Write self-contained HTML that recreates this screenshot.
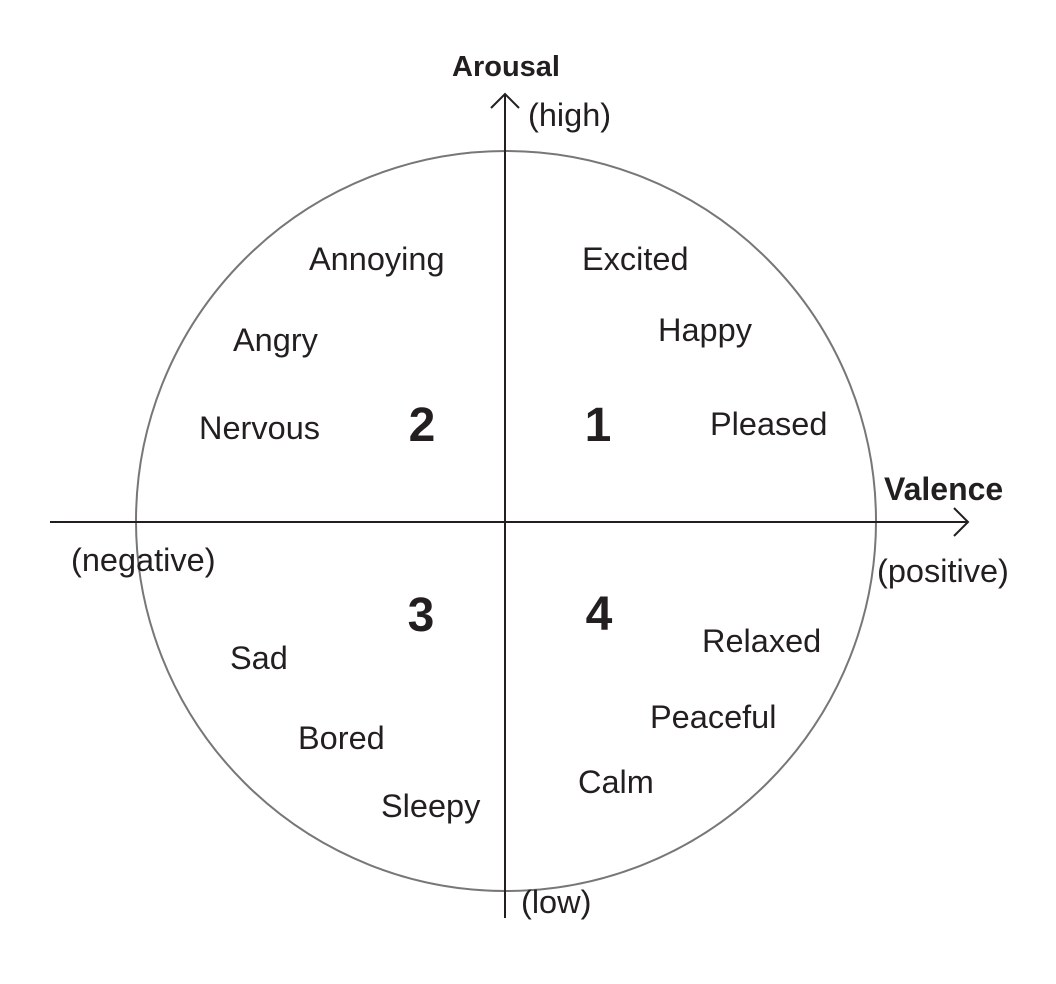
<!DOCTYPE html>
<html><head><meta charset="utf-8"><style>
html,body{margin:0;padding:0;background:#fff;}
svg{display:block;}
text{font-family:"Liberation Sans",Arial,sans-serif;fill:#231f20;}
.l{font-size:32.5px;}
.b{font-weight:bold;}
</style></head><body>
<svg width="1056" height="984" viewBox="0 0 1056 984" xmlns="http://www.w3.org/2000/svg">
<circle cx="506" cy="521" r="370" fill="none" stroke="#777" stroke-width="2"/>
<line x1="505" y1="94" x2="505" y2="918" stroke="#231f20" stroke-width="2"/>
<polyline points="491,108 505,94 519,108" fill="none" stroke="#231f20" stroke-width="2"/>
<line x1="50" y1="522" x2="968" y2="522" stroke="#231f20" stroke-width="2"/>
<polyline points="954,508 968,522 954,536" fill="none" stroke="#231f20" stroke-width="2"/>

<text x="506" y="76" text-anchor="middle" class="b" font-size="29">Arousal</text>
<text x="528" y="126" class="l">(high)</text>
<text x="884" y="500" class="b" font-size="32">Valence</text>
<text x="71" y="571" class="l">(negative)</text>
<text x="877" y="582" class="l">(positive)</text>
<text x="521" y="913" class="l">(low)</text>

<text x="309" y="270" class="l">Annoying</text>
<text x="582" y="270" class="l">Excited</text>
<text x="658" y="341" class="l">Happy</text>
<text x="233" y="351" class="l">Angry</text>
<text x="199" y="439" class="l">Nervous</text>
<text x="710" y="435" class="l">Pleased</text>
<text x="702" y="652" class="l">Relaxed</text>
<text x="230" y="669" class="l">Sad</text>
<text x="650" y="728" class="l">Peaceful</text>
<text x="298" y="749" class="l">Bored</text>
<text x="578" y="793" class="l">Calm</text>
<text x="381" y="817" class="l">Sleepy</text>

<text x="422" y="441" text-anchor="middle" class="b" font-size="48">2</text>
<text x="598" y="441" text-anchor="middle" class="b" font-size="48">1</text>
<text x="421" y="631" text-anchor="middle" class="b" font-size="48">3</text>
<text x="599" y="630" text-anchor="middle" class="b" font-size="48">4</text>
</svg>
</body></html>
